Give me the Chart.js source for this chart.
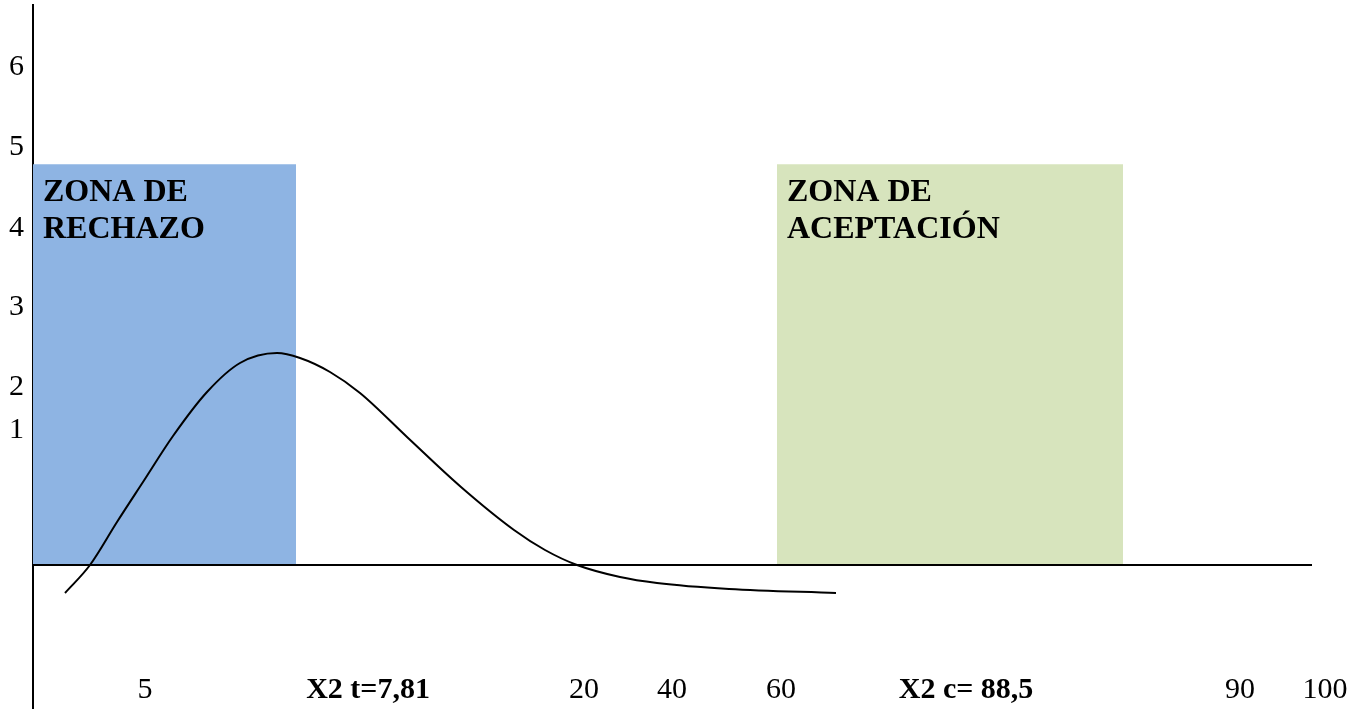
<!DOCTYPE html>
<html>
<head>
<meta charset="utf-8">
<script src="https://cdn.jsdelivr.net/npm/chart.js@4"></script>
<style>
  html, body { margin: 0; padding: 0; background: #ffffff; }
  #wrap { width: 1359px; height: 709px; }
</style>
</head>
<body>
<div id="wrap"><canvas id="c" width="1359" height="709"></canvas></div>
<script>
// ---- data (diagram units) ----
const yTickValues = [6.225, 5.225, 4.21, 3.225, 2.225, 1.69];
const yTickLabels = ['6', '5', '4', '3', '2', '1'];

const xTickValues = [11.2, 33.5, 55.1, 63.9, 74.8, 93.3, 120.7, 129.2];
const xTickLabels = ['5', 'X2 t=7,81', '20', '40', '60', 'X2 c= 88,5', '90', '100'];

const curveX = [3.2, 5.7, 8.4, 11.0, 14.0, 17.4, 20.7, 24.4, 26.7, 29.7, 32.7, 37.4, 42.8, 48.1, 51.2, 54.4, 58.7, 62.4, 69.6, 80.3];
const curveY = [-0.35, 0, 0.5375, 1.0375, 1.6125, 2.1625, 2.525, 2.65, 2.5875, 2.4125, 2.15, 1.6, 0.975, 0.4375, 0.1875, 0, -0.15, -0.225, -0.3, -0.35];

const rejectZoneX = [0, 26.3];
const acceptZoneX = [74.4, 109.0];
const zoneTop = 5.01;
const baselineX = [0, 127.9];

const zoneLabels = [['ZONA DE', 'RECHAZO'], ['ZONA DE', 'ACEPTACIÓN']];

// ---- build ----
const toPts = (xs, ys) => xs.map((x, i) => ({ x: x, y: ys[i] }));
const flat = (xs, y) => xs.map(x => ({ x: x, y: y }));

const zoneTextPlugin = {
  id: 'zoneText',
  afterDatasetsDraw(chart) {
    const ctx = chart.ctx;
    const xs = chart.scales.x, ys = chart.scales.y;
    const starts = [rejectZoneX[0], acceptZoneX[0]];
    ctx.save();
    ctx.fillStyle = '#000000';
    ctx.font = 'bold 32px "Liberation Serif", "Times New Roman", serif';
    ctx.textBaseline = 'alphabetic';
    ctx.textAlign = 'left';
    zoneLabels.forEach((lines, i) => {
      const px = xs.getPixelForValue(starts[i]) + 10;
      const top = ys.getPixelForValue(zoneTop);
      lines.forEach((t, j) => ctx.fillText(t, px, top + 37 + j * 37));
    });
    ctx.restore();
  }
};

const noPad = s => { s.paddingTop = 0; s.paddingBottom = 0; s.paddingLeft = 0; s.paddingRight = 0; };

new Chart(document.getElementById('c'), {
  type: 'line',
  data: {
    datasets: [
      {
        data: toPts(curveX, curveY),
        borderColor: '#000000', borderWidth: 2,
        pointRadius: 0, fill: false,
        cubicInterpolationMode: 'monotone', order: 1
      },
      {
        data: flat(baselineX, 0),
        borderColor: '#000000', borderWidth: 2,
        pointRadius: 0, fill: false, order: 2
      },
      {
        data: flat(rejectZoneX, zoneTop),
        borderWidth: 0, borderColor: 'rgba(0,0,0,0)',
        backgroundColor: '#8EB4E3',
        pointRadius: 0, fill: 'origin', order: 3
      },
      {
        data: flat(acceptZoneX, zoneTop),
        borderWidth: 0, borderColor: 'rgba(0,0,0,0)',
        backgroundColor: '#D7E4BD',
        pointRadius: 0, fill: 'origin', order: 3
      }
    ]
  },
  options: {
    responsive: false,
    animation: false,
    layout: { padding: { top: 5, bottom: 0, left: 0, right: 26 } },
    plugins: { legend: { display: false }, tooltip: { enabled: false } },
    scales: {
      x: {
        type: 'linear',
        position: { y: -1.3375 },
        min: 0, max: 130,
        grid: { display: false, drawTicks: false },
        border: { display: false },
        afterFit: noPad,
        afterBuildTicks: s => { s.ticks = xTickValues.map(v => ({ value: v })); },
        ticks: {
          autoSkip: false, maxRotation: 0, padding: 0, color: '#000000',
          font: ctx => ({
            family: '"Liberation Serif", "Times New Roman", serif',
            size: 30,
            weight: (xTickLabels[ctx.index] || '').indexOf('X2') === 0 ? 'bold' : 'normal'
          }),
          callback: (v, i) => xTickLabels[i]
        }
      },
      y: {
        type: 'linear',
        min: -1.8, max: 7.0,
        grid: { display: false, drawTicks: false },
        border: { display: true, color: '#000000', width: 2 },
        afterFit: s => { s.width = 33; noPad(s); },
        afterBuildTicks: s => { s.ticks = yTickValues.map(v => ({ value: v })); },
        ticks: {
          autoSkip: false, padding: 9, color: '#000000',
          font: { family: '"Liberation Serif", "Times New Roman", serif', size: 30 },
          callback: (v, i) => yTickLabels[i]
        }
      }
    }
  },
  plugins: [zoneTextPlugin]
});
</script>
</body>
</html>
